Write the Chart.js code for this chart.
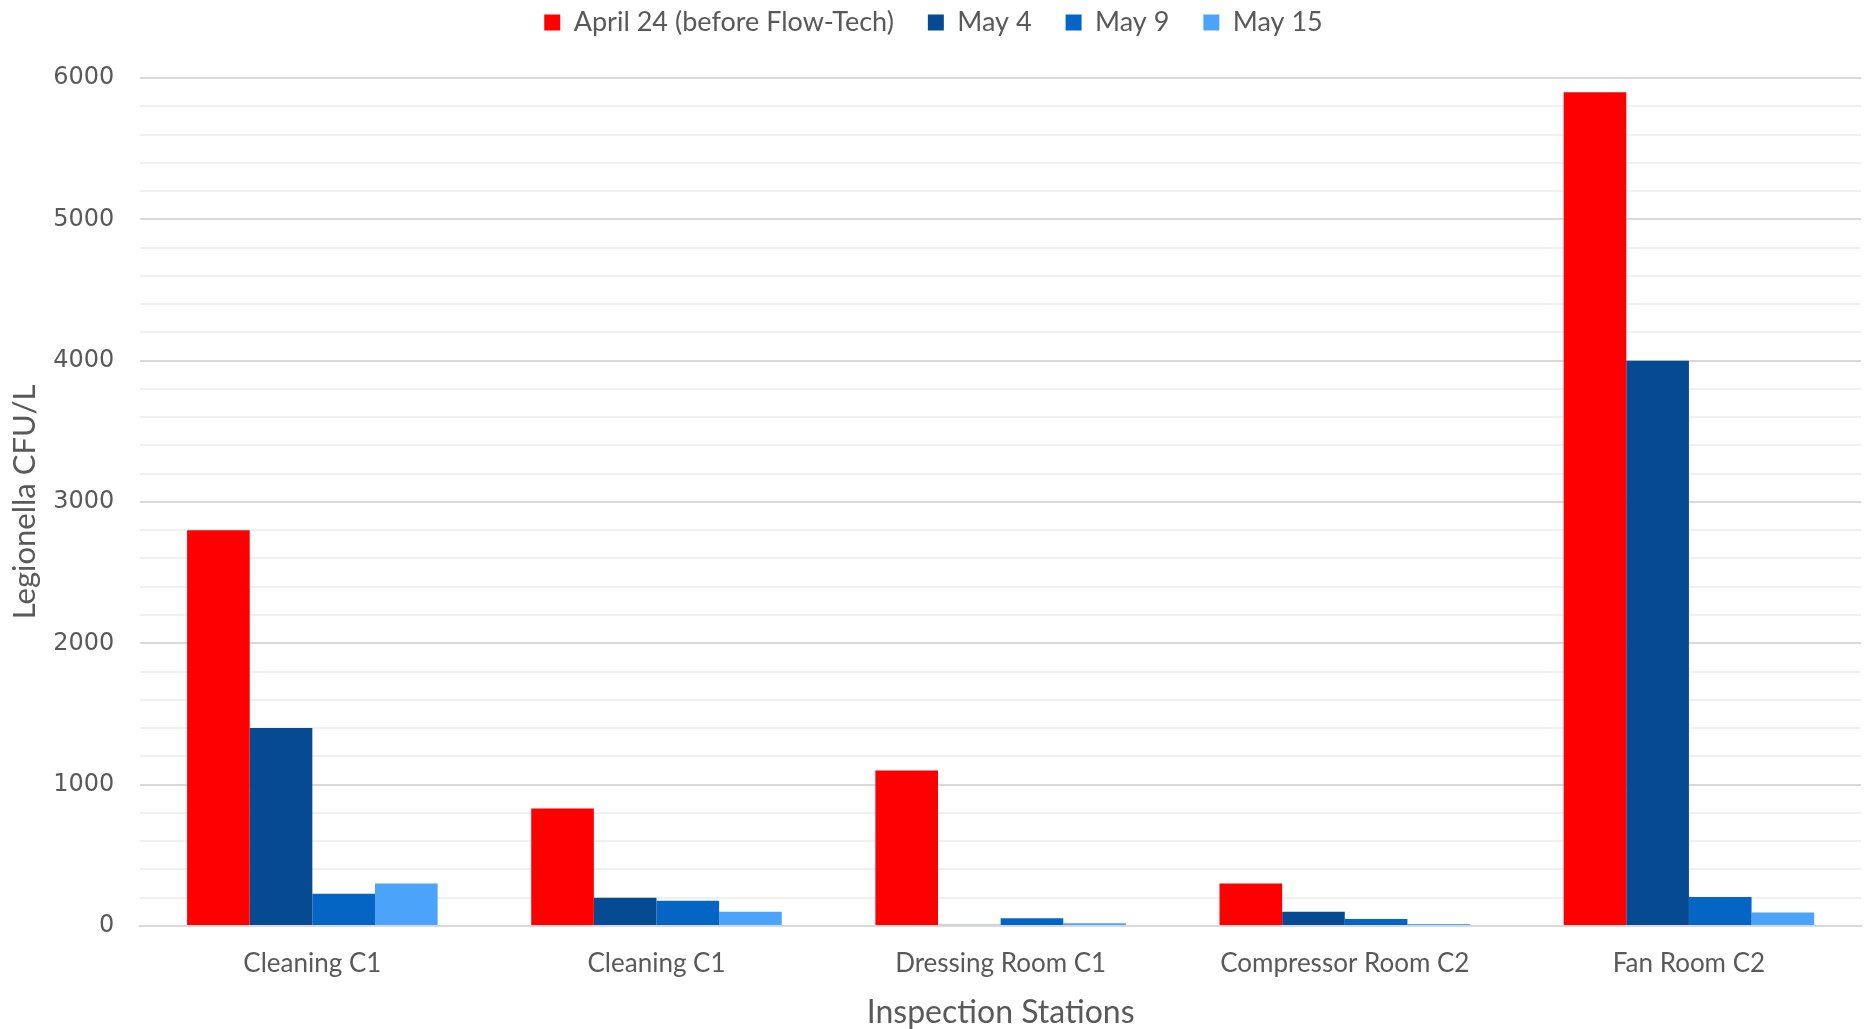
<!DOCTYPE html>
<html>
<head>
<meta charset="utf-8">
<script src="https://cdn.jsdelivr.net/npm/chart.js@4.4.1/dist/chart.umd.min.js"></script>
<style>
  html, body { margin: 0; padding: 0; background: #ffffff; }
  canvas { display: block; }
</style>
</head>
<body>
<canvas id="chart" width="1870" height="1029"></canvas>
<script>
const stations = ['Cleaning C1', 'Cleaning C1', 'Dressing Room C1', 'Compressor Room C2', 'Fan Room C2'];
const seriesNames = ['April 24 (before Flow-Tech)', 'May 4', 'May 9', 'May 15'];
const april24 = [2800, 830, 1100, 300, 5900];
const may4 = [1400, 200, 8, 100, 4000];
const may9 = [228, 178, 55, 48, 205];
const may15 = [300, 100, 18, 14, 95];
const seriesColors = ['#ff0000', '#064a91', '#0565c4', '#4ba3fa'];
const yTicks = [0, 1000, 2000, 3000, 4000, 5000, 6000];

const LABEL_FONT = 'Lato, "Open Sans", sans-serif';
const TEXT = '#595959';

// extra room under the legend, so the plot starts where the original does
const legendSpacer = {
  id: 'legendSpacer',
  beforeInit(chart) {
    const originalFit = chart.legend.fit;
    chart.legend.fit = function fit() {
      originalFit.bind(chart.legend)();
      this.height += 32;
    };
  }
};

const ctx = document.getElementById('chart').getContext('2d');
const datasetValues = [april24, may4, may9, may15];

new Chart(ctx, {
  type: 'bar',
  data: {
    labels: stations,
    datasets: seriesNames.map((name, i) => ({
      label: name,
      data: datasetValues[i],
      backgroundColor: seriesColors[i],
      borderWidth: 0,
      barPercentage: 1,
      categoryPercentage: 0.728
    }))
  },
  options: {
    responsive: false,
    animation: false,
    devicePixelRatio: 1,
    layout: { padding: { top: -25, right: 9, bottom: -2.5, left: 6 } },
    plugins: {
      tooltip: { enabled: false },
      legend: {
        position: 'top',
        labels: {
          color: TEXT,
          boxWidth: 16,
          boxHeight: 16,
          padding: 34,
          font: { size: 27, family: LABEL_FONT }
        }
      }
    },
    scales: {
      x: {
        grid: { display: false },
        border: { display: true, color: '#d9d9d9', width: 2 },
        ticks: {
          color: TEXT,
          padding: 14,
          font: { size: 26, family: LABEL_FONT }
        },
        title: {
          display: true,
          text: 'Inspection Stations',
          color: TEXT,
          padding: { top: 0, bottom: 0 },
          font: { size: 32, family: LABEL_FONT }
        }
      },
      y: {
        min: 0,
        max: 6000,
        border: { display: false },
        ticks: {
          stepSize: 200,
          autoSkip: false,
          color: TEXT,
          padding: 26,
          font: { size: 24, family: '"DejaVu Sans", sans-serif' },
          callback: (value) => (yTicks.includes(value) ? String(value) : '')
        },
        grid: {
          drawTicks: false,
          color: (c) => (c.tick && c.tick.value % 1000 === 0 ? '#d9d9d9' : '#f0f0f0'),
          lineWidth: 2
        },
        title: {
          display: true,
          text: 'Legionella CFU/L',
          color: TEXT,
          padding: { top: 0, bottom: -16 },
          font: { size: 31, family: LABEL_FONT }
        }
      }
    }
  },
  plugins: [legendSpacer]
});
</script>
</body>
</html>
